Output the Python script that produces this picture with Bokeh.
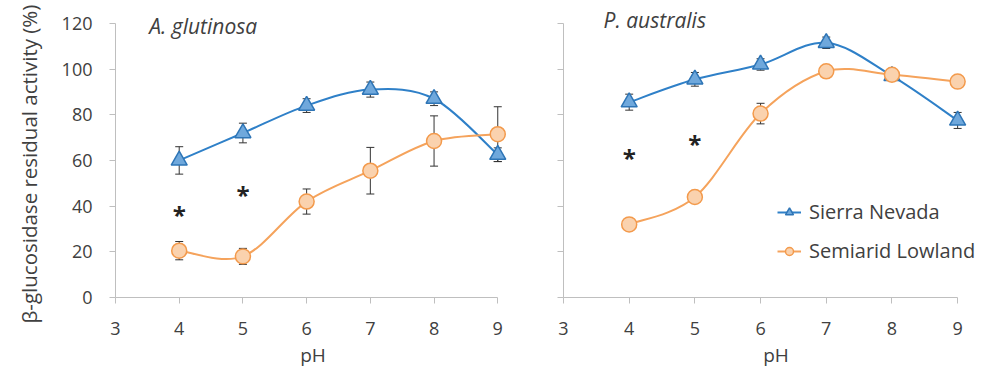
import numpy as np
from bokeh.plotting import figure
from bokeh.layouts import row
from bokeh.models import (ColumnDataSource, Range1d, FixedTicker, Whisker, TeeHead,
                          Label, Legend, LegendItem, CustomJSTickFormatter, Title)
from bokeh.core.properties import value
from bokeh.embed import file_html
from bokeh.resources import INLINE

# ---- data -------------------------------------------------------------
ph = [4, 5, 6, 7, 8, 9]
x_ticks = [3, 4, 5, 6, 7, 8, 9]
y_ticks = [0, 20, 40, 60, 80, 100, 120]

# Alnus glutinosa
ag_sierra = [60, 72, 84, 91, 87, 62.5]
ag_sierra_err = [6, 4.3, 3, 3.3, 3, 3]
ag_lowland = [20.5, 18, 42, 55.5, 68.5, 71.5]
ag_lowland_err = [4, 3.5, 5.5, 10.2, 11, 12]
ag_star_ph = [4, 5]
ag_star_y = [37, 46]

# Phragmites australis
pa_sierra = [85.5, 95.5, 102, 111.5, 97, 77.5]
pa_sierra_err = [3.5, 3, 2.5, 2.5, 2, 3.5]
pa_lowland = [32, 44, 80.5, 99, 97.5, 94.5]
pa_lowland_err = [1.5, 1.5, 4.5, 1.5, 1.5, 1.5]
pa_star_ph = [4, 5]
pa_star_y = [62, 68.5]

# ---- style ------------------------------------------------------------
FONT = "Open Sans"
TEXT = "#404040"
AXIS = "#BFBFBF"
BLUE_LINE, BLUE_FILL, BLUE_EDGE = "#2F80C8", "#6FA8DC", "#2E75B6"
ORANGE_LINE, ORANGE_FILL, ORANGE_EDGE = "#F5A35C", "#FAD2AE", "#F39A4C"


def smooth(xs, ys):
    """Cubic Bezier control points for a Catmull-Rom style smoothed line."""
    x = np.asarray(xs, float)
    y = np.asarray(ys, float)
    n = len(x)
    xp = np.r_[x[0], x, x[-1]]
    yp = np.r_[y[0], y, y[-1]]
    return dict(
        x0=x[:-1], y0=y[:-1], x1=x[1:], y1=y[1:],
        cx0=xp[1:n] + (xp[2:n + 1] - xp[0:n - 1]) / 6,
        cy0=yp[1:n] + (yp[2:n + 1] - yp[0:n - 1]) / 6,
        cx1=xp[2:n + 1] - (xp[3:n + 2] - xp[1:n]) / 6,
        cy1=yp[2:n + 1] - (yp[3:n + 2] - yp[1:n]) / 6,
    )


def panel(width, border_left, border_right, x_end, show_labels):
    # the frame reaches past the drawn axes so titles, markers and the legend are not clipped;
    # the axes themselves stop at pH 9 and 120 %
    p = figure(width=width, height=372, output_backend="svg", toolbar_location=None,
               x_range=Range1d(3, x_end), y_range=Range1d(0, 130),
               min_border_left=border_left, min_border_right=border_right,
               min_border_top=0, min_border_bottom=75)
    p.outline_line_color = None
    p.grid.visible = False
    for ax in (p.xaxis[0], p.yaxis[0]):
        ax.axis_line_color = AXIS
        ax.major_tick_line_color = AXIS
        ax.major_tick_in = 0
        ax.major_tick_out = 6
        ax.minor_tick_line_color = None
        ax.major_label_text_font = FONT
        ax.major_label_text_font_size = "18px"
        ax.major_label_text_color = TEXT
        ax.axis_label_text_font = FONT
        ax.axis_label_text_font_style = "normal"
        ax.axis_label_text_color = TEXT
    p.xaxis.ticker = FixedTicker(ticks=x_ticks)
    p.xaxis.bounds = (3, 9)
    p.xaxis.axis_label = "pH"
    p.xaxis.axis_label_text_font_size = "19px"
    p.xaxis.major_label_standoff = 18
    p.xaxis.axis_label_standoff = 4
    p.yaxis.ticker = FixedTicker(ticks=y_ticks)
    p.yaxis.bounds = (0, 120)
    p.yaxis.major_label_standoff = 17
    if show_labels:
        p.add_layout(Title(text="β-glucosidase residual activity (%)", align="left", offset=-26,
                           vertical_align="top",
                           text_font=FONT, text_font_size="20.5px", text_font_style="normal",
                           text_color=TEXT, standoff=28), "left")
    else:
        p.yaxis.formatter = CustomJSTickFormatter(code="return ''")
    return p


def series(p, yv, err, line_color, fill, edge, marker):
    src = ColumnDataSource(dict(x=ph, y=yv, upper=[a + b for a, b in zip(yv, err)],
                                lower=[a - b for a, b in zip(yv, err)]))
    w = Whisker(source=src, base="x", upper="upper", lower="lower",
                line_color="#333333", line_width=1, level="underlay",
                upper_head=TeeHead(size=8, line_color="#333333", line_width=1),
                lower_head=TeeHead(size=8, line_color="#333333", line_width=1))
    p.add_layout(w)
    curve = p.bezier(source=ColumnDataSource(smooth(ph, yv)), x0="x0", y0="y0", x1="x1", y1="y1",
                     cx0="cx0", cy0="cy0", cx1="cx1", cy1="cy1",
                     line_color=line_color, line_width=2)
    pts = p.scatter("x", "y", source=src, marker=marker, size=16 if marker == "triangle" else 15,
                    fill_color=fill, line_color=edge, line_width=1.5)
    return [curve, pts]


def stars(p, xs, ys):
    p.text(x=xs, y=ys, text=["*"] * len(xs), text_font=value(FONT), text_font_size="24px",
           text_font_style="bold", text_color="#222222", text_align="center",
           text_baseline="middle", y_offset=2)


# ---- left panel: A. glutinosa ----------------------------------------
left = panel(530, 114, 20, 9.2, True)
series(left, ag_sierra, ag_sierra_err, BLUE_LINE, BLUE_FILL, BLUE_EDGE, "triangle")
series(left, ag_lowland, ag_lowland_err, ORANGE_LINE, ORANGE_FILL, ORANGE_EDGE, "circle")
stars(left, ag_star_ph, ag_star_y)
left.add_layout(Label(x=3.53, y=119, text="A. glutinosa", text_font=FONT, text_font_size="21px",
                      text_font_style="italic", text_color=TEXT, text_baseline="middle"))

# ---- right panel: P. australis ---------------------------------------
right = panel(458, 33, 0, 9.47, False)
r_sn = series(right, pa_sierra, pa_sierra_err, BLUE_LINE, BLUE_FILL, BLUE_EDGE, "triangle")
r_sl = series(right, pa_lowland, pa_lowland_err, ORANGE_LINE, ORANGE_FILL, ORANGE_EDGE, "circle")
stars(right, pa_star_ph, pa_star_y)
right.add_layout(Label(x=3.61, y=121.3, text="P. australis", text_font=FONT, text_font_size="21px",
                       text_font_style="italic", text_color=TEXT, text_baseline="middle"))

legend = Legend(items=[LegendItem(label="Sierra Nevada", renderers=r_sn),
                       LegendItem(label="Semiarid Lowland", renderers=r_sl)],
                location=(214, 33), padding=0, margin=0, spacing=12,
                glyph_width=24, glyph_height=20, label_standoff=8,
                label_text_font=FONT, label_text_font_size="20px", label_text_color=TEXT,
                border_line_color=None, background_fill_alpha=0)
right.add_layout(legend)

layout = row(left, right)
open("out.html", "w").write(file_html(layout, INLINE))
